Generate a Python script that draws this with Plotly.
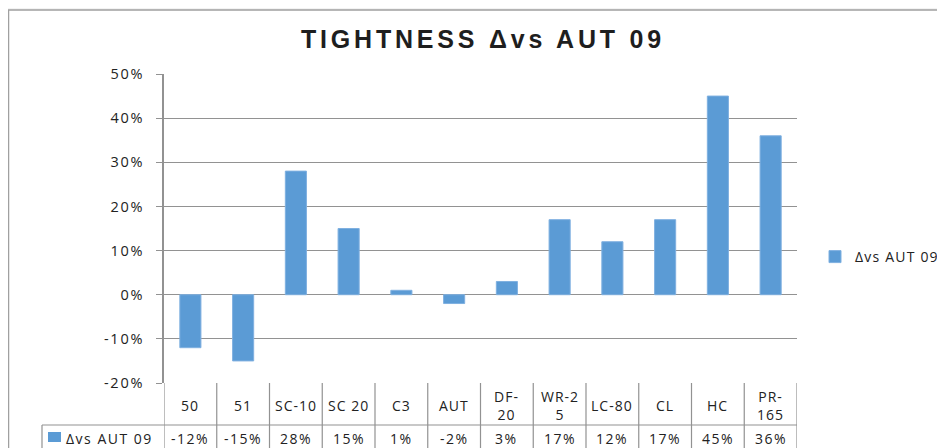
import plotly.graph_objects as go

# ---- data ----
categories = ["50", "51", "SC-10", "SC 20", "C3", "AUT", "DF-20", "WR-25", "LC-80", "CL", "HC", "PR-165"]
table_labels = ["50", "51", "SC-10", "SC 20", "C3", "AUT", "DF-<br>20", "WR-2<br>5", "LC-80", "CL", "HC", "PR-<br>165"]
series_name = "Δvs AUT 09"
values = [-0.12, -0.15, 0.28, 0.15, 0.01, -0.02, 0.03, 0.17, 0.12, 0.17, 0.45, 0.36]
y_ticks = [-0.2, -0.1, 0.0, 0.1, 0.2, 0.3, 0.4, 0.5]
y_tick_text = ["-20%", "-10%", "0%", "10%", "20%", "30%", "40%", "50%"]
title_text = "TIGHTNESS Δvs AUT 09"

# page has an 8px body margin, so the figure is offset by 8px
OX, OY = 8, 8
W, H = 945 - OX, 448 - OY
BAR = "#5b9bd5"
GRID = "#929292"
TXT = "#222222"
FONT = "Open Sans"


def px(x):
    return (x - OX) / W


def py(y):
    return 1 - (y - OY) / H


def spaced(t, s):
    return f'<span style="letter-spacing:{s}px">{t}</span>'


x_dom = [px(164), px(797)]
y_dom = [py(383), py(74)]
n = len(categories)

fig = go.Figure()
fig.add_trace(go.Bar(
    x=categories, y=values, name=spaced(series_name, 1.2),
    marker=dict(color=BAR, line=dict(color="#7fb0e0", width=1)),
    width=0.4, showlegend=True,
))

shapes = []
# white chart area with gray border
shapes.append(dict(type="rect", xref="paper", yref="paper",
                   x0=px(8.5), x1=px(960), y0=py(470), y1=py(10),
                   fillcolor="white", line=dict(color="#a0a0a0", width=1.5), layer="below"))
# table: vertical lines
for i in range(n + 1):
    shapes.append(dict(type="line", xref="x", yref="paper",
                       x0=i - 0.5, x1=i - 0.5, y0=py(383), y1=py(455),
                       line=dict(color=GRID, width=1.2)))
# table: row divider
shapes.append(dict(type="line", xref="paper", yref="paper",
                   x0=px(42), x1=x_dom[1], y0=py(425), y1=py(425),
                   line=dict(color=GRID, width=1.2)))
# table: left border of value row
shapes.append(dict(type="line", xref="paper", yref="paper",
                   x0=px(42), x1=px(42), y0=py(425), y1=py(455),
                   line=dict(color=GRID, width=1.2)))
# series key square in table
shapes.append(dict(type="rect", xref="paper", yref="paper",
                   x0=px(48), x1=px(61), y0=py(442), y1=py(432),
                   fillcolor=BAR, line=dict(width=0)))

annotations = []
for i, (lab, v) in enumerate(zip(table_labels, values)):
    annotations.append(dict(x=i, xref="x", y=py(405), yref="paper",
                            text=spaced(lab, 1), showarrow=False, xanchor="center", yanchor="middle",
                            font=dict(family=FONT, size=14, color=TXT)))
    annotations.append(dict(x=i, xref="x", y=py(438), yref="paper",
                            text=spaced(f"{round(v * 100)}%", 1.5), showarrow=False,
                            xanchor="center", yanchor="middle",
                            font=dict(family=FONT, size=14, color=TXT)))
annotations.append(dict(x=px(64), xref="paper", y=py(438), yref="paper",
                        text=spaced(series_name, 1.5), showarrow=False, xanchor="left", yanchor="middle",
                        font=dict(family=FONT, size=14, color=TXT)))

fig.update_layout(
    width=W, height=H, autosize=False,
    margin=dict(l=0, r=0, t=0, b=0, autoexpand=False),
    paper_bgcolor="#f3f3f3", plot_bgcolor="rgba(0,0,0,0)",
    title=dict(text="<b>" + spaced(title_text, 3.8) + "</b>", x=px(483), xanchor="center",
               y=py(39), yanchor="middle",
               font=dict(family="Liberation Sans", size=25, color="#1e1e1e")),
    xaxis=dict(type="category", domain=x_dom, range=[-0.5, n - 0.5], showticklabels=False,
               showline=False, showgrid=False, zeroline=False, ticks=""),
    yaxis=dict(domain=y_dom, range=[-0.2, 0.5], tickvals=y_ticks,
               ticktext=[spaced(t, 1.8) for t in y_tick_text],
               showgrid=True, gridcolor=GRID, gridwidth=1.2,
               zeroline=True, zerolinecolor=GRID, zerolinewidth=1.2,
               showline=True, linecolor=GRID, linewidth=1.5,
               ticks="outside", ticklen=6, tickcolor=GRID, tickwidth=1.2,
               ticklabelstandoff=9,
               tickfont=dict(family=FONT, size=14.5, color=TXT)),
    legend=dict(x=px(815), xanchor="left", y=py(257), yanchor="middle",
                bgcolor="rgba(0,0,0,0)", font=dict(family=FONT, size=14, color=TXT)),
    shapes=shapes, annotations=annotations,
    bargap=0.6,
)

fig.write_html("out.html")
